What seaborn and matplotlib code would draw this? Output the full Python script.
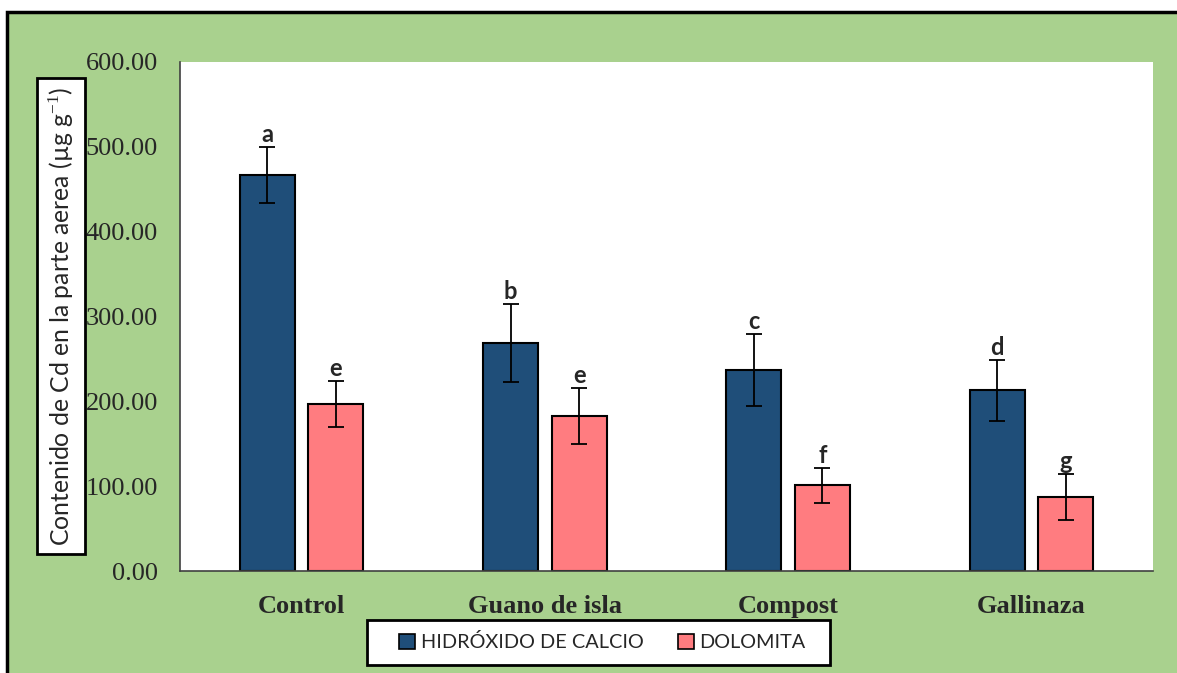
import numpy as np
import pandas as pd
import matplotlib
matplotlib.use('Agg')
import matplotlib.pyplot as plt
import seaborn as sns
from matplotlib.patches import Rectangle

# values
tratamientos = ['Control', 'Guano de isla', 'Compost', 'Gallinaza']
enmiendas = ['HIDRÓXIDO DE CALCIO', 'DOLOMITA']
cal_media = [467, 269, 237, 213]
cal_error = [33, 46, 42, 36]
dol_media = [197, 183, 101, 87]
dol_error = [27, 33, 21, 27]
cal_letras = ['a', 'b', 'c', 'd']
dol_letras = ['e', 'e', 'f', 'g']

df = pd.DataFrame({
    'Tratamiento': tratamientos * 2,
    'Enmienda': [enmiendas[0]] * 4 + [enmiendas[1]] * 4,
    'Cd': cal_media + dol_media,
})
errores = [cal_error, dol_error]
letras = [cal_letras, dol_letras]

sns.set_theme(style='white')
plt.rcParams['font.family'] = ['Liberation Serif', 'DejaVu Serif']
plt.rcParams['mathtext.fontset'] = 'custom'
plt.rcParams['mathtext.rm'] = 'Liberation Serif'

verde = '#A9D18E'
colores = {enmiendas[0]: '#1F4E79', enmiendas[1]: '#FF7C80'}
sans = ['Lato', 'DejaVu Sans']

fig = plt.figure(figsize=(11.77, 6.73), dpi=100, facecolor='white')
marco = Rectangle((7 / 1177, -0.05), 1.1, 1 - 12 / 673 + 0.05, transform=fig.transFigure,
                  facecolor=verde, edgecolor='black', linewidth=2.5, zorder=-10)
fig.patches.append(marco)

ax = fig.add_axes([180 / 1177, 102 / 673, 973 / 1177, 509 / 673])
ax.set_facecolor('white')

sns.barplot(data=df, x='Tratamiento', y='Cd', hue='Enmienda', order=tratamientos,
            hue_order=enmiendas, palette=colores, saturation=1, width=0.564, gap=0.2,
            errorbar=None, edgecolor='black', linewidth=1.5, ax=ax, legend=True)

barras = list(ax.containers)
for i, cont in enumerate(barras):
    xs = [b.get_x() + b.get_width() / 2 for b in cont]
    ys = [b.get_height() for b in cont]
    ax.errorbar(xs, ys, yerr=errores[i], fmt='none', ecolor='black',
                elinewidth=1.3, capsize=6, capthick=1.3, zorder=5)
    for x, y, e, t in zip(xs, ys, errores[i], letras[i]):
        ax.text(x, y + e + 1, t, ha='center', va='bottom', fontsize=17,
                fontweight='bold', family=sans)

ax.set_xlim(-0.5, len(tratamientos) - 0.5)
ax.set_ylim(0, 600)
ax.set_yticks(np.arange(0, 601, 100))
ax.set_yticklabels([f'{v:.2f}' for v in np.arange(0, 601, 100)], fontsize=19)
ax.set_xticks(range(len(tratamientos)))
ax.set_xticklabels(tratamientos, fontsize=19, fontweight='bold')
ax.tick_params(axis='y', length=0, pad=16)
ax.tick_params(axis='x', length=0, pad=17)
ax.set_xlabel('')
ax.set_ylabel('')
for s in ['top', 'right']:
    ax.spines[s].set_visible(False)
for s in ['left', 'bottom']:
    ax.spines[s].set_color('#404040')
    ax.spines[s].set_linewidth(1.2)

fig.text(61 / 1177, 1 - 316 / 673, 'Contenido de Cd en la parte aerea (µg g$^{-1}$)',
         rotation=90, ha='center', va='center', fontsize=17.8, family=sans,
         bbox=dict(boxstyle='square,pad=0.35', facecolor='white', edgecolor='black', linewidth=2))

# legend box drawn separately so its padding matches the reference
caja = Rectangle((367 / 1177, 8 / 673), 463 / 1177, 45 / 673, transform=fig.transFigure,
                 facecolor='white', edgecolor='black', linewidth=2, zorder=-5)
fig.patches.append(caja)

handles, labels = ax.get_legend_handles_labels()
ax.get_legend().remove()
for h in handles:
    h.set_linewidth(1.2)
fig.legend(handles, labels, loc='center', bbox_to_anchor=(602.5 / 1177, 30.5 / 673),
           bbox_transform=fig.transFigure, ncol=2, frameon=False,
           handlelength=0.8, handleheight=0.8, handletextpad=0.3, columnspacing=1.7,
           borderpad=0.2, prop={'family': sans, 'size': 14.3})

plt.savefig('out.png', dpi=100, facecolor='white')
plt.close()
